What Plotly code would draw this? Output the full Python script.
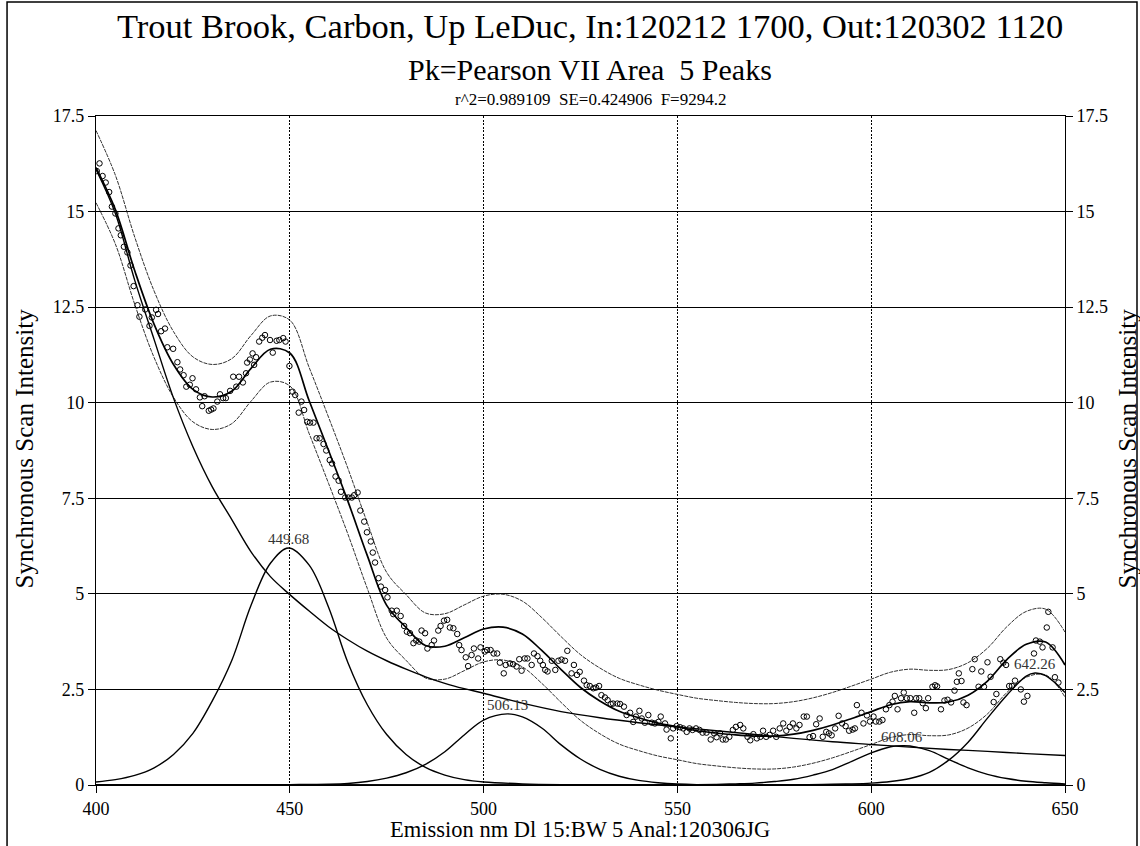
import plotly.graph_objects as go

# ---------------- data ----------------
grid5 = [400, 405, 410, 415, 420, 425, 430, 435, 440, 445,
         450, 455, 460, 465, 470, 475, 480, 485, 490, 495,
         500, 505, 510, 515, 520, 525, 530, 535, 540, 545,
         550, 555, 560, 565, 570, 575, 580, 585, 590, 595,
         600, 605, 610, 615, 620, 625, 630, 635, 640, 645, 650]

fit_y = [16.15, 15.05, 13.45, 12.05, 11.0, 10.35, 10.15, 10.3, 10.9, 11.4,
         11.3, 10.05, 8.75, 7.42, 6.0, 4.7, 4.12, 3.65, 3.63, 3.85,
         4.08, 4.13, 3.95, 3.52, 3.02, 2.55, 2.2, 1.93, 1.76, 1.62,
         1.52, 1.42, 1.36, 1.31, 1.28, 1.28, 1.33, 1.43, 1.57, 1.74,
         1.92, 2.1, 2.18, 2.15, 2.17, 2.35, 2.72, 3.28, 3.68, 3.74, 3.14]

upper_y = [17.12, 15.95, 14.33, 12.92, 11.86, 11.2, 11.0, 11.15, 11.76, 12.27,
           12.16, 10.92, 9.62, 8.28, 6.86, 5.56, 4.98, 4.5, 4.48, 4.71,
           4.94, 4.99, 4.81, 4.38, 3.88, 3.41, 3.06, 2.79, 2.62, 2.48,
           2.37, 2.27, 2.21, 2.16, 2.13, 2.13, 2.18, 2.28, 2.42, 2.59,
           2.77, 2.95, 3.03, 3.0, 3.02, 3.2, 3.58, 4.14, 4.54, 4.6, 4.0]

lower_y = [15.23, 14.15, 12.57, 11.18, 10.14, 9.5, 9.3, 9.45, 10.04, 10.54,
           10.44, 9.19, 7.89, 6.56, 5.14, 3.84, 3.26, 2.8, 2.77, 2.99,
           3.22, 3.27, 3.09, 2.66, 2.16, 1.69, 1.34, 1.07, 0.9, 0.76,
           0.66, 0.56, 0.5, 0.45, 0.42, 0.42, 0.47, 0.57, 0.71, 0.88,
           1.06, 1.24, 1.32, 1.29, 1.31, 1.49, 1.86, 2.42, 2.82, 2.88, 2.3]

base_x = [400, 405, 410, 415, 420, 425, 430, 435, 440, 445, 450, 455, 460,
          465, 470, 475, 480, 485, 490, 495, 500, 510, 520, 530, 540, 550,
          560, 570, 580, 590, 600, 610, 620, 630, 640, 650]
base_y = [16.1, 14.95, 13.2, 11.65, 10.12, 8.85, 7.8, 6.95, 6.1, 5.45, 4.98, 4.55, 4.14,
          3.8, 3.5, 3.25, 3.03, 2.83, 2.66, 2.52, 2.40, 2.14, 1.92, 1.76, 1.63, 1.52,
          1.42, 1.32, 1.22, 1.13, 1.06, 0.99, 0.93, 0.88, 0.82, 0.77]

pk1_x = [400, 405, 410, 415, 420, 425, 430, 435, 440, 445, 449.68, 455, 460,
         465, 470, 475, 480, 485, 490, 495, 500, 510, 520, 550, 650]
pk1_y = [0.08, 0.14, 0.25, 0.45, 0.8, 1.35, 2.2, 3.25, 4.7, 5.8, 6.2, 5.75, 4.65,
         3.2, 2.1, 1.32, 0.8, 0.46, 0.26, 0.14, 0.08, 0.03, 0.01, 0.0, 0.0]

pk2_x = [400, 450, 460, 465, 470, 475, 480, 485, 490, 495, 500, 506.13, 510,
         515, 520, 525, 530, 535, 540, 545, 550, 555, 600, 650]
pk2_y = [0.0, 0.01, 0.02, 0.04, 0.09, 0.18, 0.32, 0.54, 0.87, 1.31, 1.70, 1.86, 1.78,
         1.49, 1.05, 0.68, 0.41, 0.23, 0.12, 0.06, 0.025, 0.01, 0.0, 0.0]

pk3_x = [400, 550, 560, 565, 570, 575, 580, 585, 590, 595, 600, 605, 608.06,
         610, 615, 620, 625, 630, 635, 640, 645, 650]
pk3_y = [0.0, 0.0, 0.015, 0.03, 0.05, 0.09, 0.15, 0.26, 0.40, 0.62, 0.84, 1.00, 1.03,
         1.02, 0.90, 0.67, 0.45, 0.28, 0.17, 0.10, 0.06, 0.03]

pk4_x = [400, 580, 590, 595, 600, 605, 610, 615, 620, 625, 630, 635, 640,
         642.26, 645, 650]
pk4_y = [0.0, 0.0, 0.02, 0.03, 0.05, 0.09, 0.17, 0.33, 0.65, 1.12, 1.75, 2.35, 2.85,
         2.93, 2.86, 2.42]

peak_centers = [449.68, 506.13, 608.06, 642.26]
peak_heights = [6.2, 1.86, 1.03, 2.93]
peak_labels = ["449.68", "506.13", "608.06", "642.26"]

data_x = [400.2, 400.9, 401.7, 402.5, 403.4, 404.1, 405.0, 405.8, 406.4, 407.2,
          408.1, 408.9, 409.7, 410.7, 411.2, 412.7, 413.8, 414.4, 415.5, 416.0,
          416.8, 417.8, 418.4, 419.9, 421.0, 421.7, 422.6, 423.3, 424.2, 424.9,
          425.8, 426.8, 427.4, 428.0, 429.1, 429.7, 430.3, 431.3, 432.0, 432.8,
          433.5, 434.6, 435.4, 436.2, 436.9, 437.9, 438.7, 439.0, 439.7, 440.4,
          440.8, 441.3, 442.1, 442.9, 443.6, 444.9, 445.6, 446.6, 447.3, 448.3,
          448.9, 449.9, 450.7, 451.4, 452.3, 453.0, 453.7, 454.5, 455.2, 456.1,
          456.9, 457.7, 458.7, 459.4, 460.3, 460.9, 461.8, 462.6, 463.2, 464.3,
          465.1, 466.0, 466.6, 467.5, 468.2, 469.2, 469.9, 470.9, 471.4, 472.0,
          472.9, 473.5, 474.6, 475.2, 476.3, 476.7, 477.6, 478.6, 479.5, 480.2,
          481.0, 481.9, 482.6, 483.4, 484.0, 484.9, 485.5, 486.6, 487.2, 488.3,
          488.9, 489.8, 490.6, 491.3, 492.2, 493.2, 493.7, 494.3, 495.4, 496.0,
          496.9, 497.5, 498.6, 499.2, 500.3, 500.9, 501.8, 502.6, 503.5, 504.2,
          505.2, 505.7, 506.8, 507.6, 508.5, 509.2, 509.8, 510.6, 511.3, 512.4,
          513.0, 513.9, 514.6, 515.3, 515.9, 516.5, 517.6, 518.5, 519.3, 520.1,
          521.0, 521.6, 522.7, 523.3, 524.1, 524.8, 525.9, 526.6, 527.4, 528.3,
          529.0, 529.8, 530.4, 531.3, 532.0, 532.8, 533.4, 534.5, 535.2, 536.2,
          536.9, 537.8, 538.6, 539.3, 540.2, 540.8, 541.6, 542.5, 543.4, 544.2,
          545.1, 545.7, 546.8, 547.2, 548.3, 548.9, 549.8, 550.7, 551.5, 552.4,
          553.1, 553.9, 554.8, 555.7, 556.5, 557.5, 558.6, 559.5, 560.1, 561.0,
          561.7, 562.5, 563.4, 564.3, 565.1, 566.2, 567.0, 568.1, 568.8, 569.6,
          570.5, 571.4, 572.1, 572.9, 573.8, 574.7, 575.5, 576.4, 577.3, 578.1,
          579.0, 579.8, 580.7, 581.5, 582.6, 583.4, 584.1, 585.0, 585.8, 586.7,
          587.5, 588.4, 589.1, 589.8, 590.7, 591.6, 592.5, 593.4, 594.3, 595.2,
          595.8, 596.3, 597.5, 598.0, 598.9, 599.7, 600.6, 601.2, 602.1, 602.9,
          603.8, 604.7, 605.5, 606.1, 606.8, 607.7, 608.4, 609.2, 610.1, 611.1,
          611.6, 612.4, 613.3, 614.1, 614.7, 615.8, 616.5, 617.0, 618.0, 618.9,
          619.7, 620.6, 621.5, 622.1, 622.6, 623.3, 623.8, 624.6, 626.1, 626.7,
          627.7, 628.4, 629.1, 630.0, 630.8, 631.6, 632.3, 633.3, 634.1, 634.8,
          635.6, 636.3, 637.1, 638.6, 639.4, 640.3, 642.0, 642.5, 643.5, 644.2,
          645.3, 645.7, 646.8, 647.4, 648.3]

data_y = [16.06, 16.26, 15.93, 15.76, 15.51, 15.13, 14.95, 14.56, 14.38, 14.08,
          13.93, 13.59, 13.05, 12.55, 12.25, 12.44, 12.01, 12.23, 12.43, 12.32,
          11.87, 11.94, 11.45, 11.41, 11.06, 10.87, 10.72, 10.42, 10.47, 10.64,
          10.35, 10.14, 9.91, 10.17, 9.79, 9.82, 9.85, 10.03, 10.22, 10.12,
          10.12, 10.31, 10.68, 10.42, 10.68, 10.53, 10.77, 11.05, 11.13, 11.29,
          10.99, 11.19, 11.6, 11.7, 11.77, 11.64, 11.31, 11.62, 11.64, 11.69,
          11.6, 10.96, 10.29, 10.2, 9.74, 10.03, 9.81, 9.5, 9.48, 9.48,
          9.07, 9.07, 8.92, 8.75, 8.5, 8.41, 8.07, 7.96, 7.67, 7.52,
          7.52, 7.52, 7.58, 7.65, 7.18, 6.89, 6.61, 6.37, 6.08, 5.82,
          5.41, 5.19, 5.1, 4.91, 4.56, 4.47, 4.56, 4.42, 4.16, 4.01,
          3.97, 3.71, 3.78, 3.75, 4.04, 3.97, 3.57, 3.66, 3.78, 4.04,
          4.16, 4.30, 4.32, 4.12, 4.10, 3.95, 3.66, 3.53, 3.34, 3.11,
          3.40, 3.57, 3.31, 3.60, 3.49, 3.53, 3.53, 3.44, 3.44, 3.20,
          2.92, 3.14, 3.18, 3.16, 3.10, 3.29, 2.99, 3.31, 3.31, 3.14,
          3.44, 3.37, 3.25, 3.14, 3.01, 2.97, 3.25, 3.01, 3.25, 3.28,
          3.25, 3.51, 2.92, 3.14, 2.88, 2.96, 2.73, 2.61, 2.59, 2.53,
          2.55, 2.59, 2.35, 2.29, 2.22, 2.12, 2.13, 2.13, 2.12, 2.05,
          1.83, 1.89, 1.65, 1.79, 1.94, 1.74, 1.63, 1.83, 1.63, 1.61,
          1.65, 1.79, 1.61, 1.45, 1.22, 1.48, 1.54, 1.51, 1.48, 1.39,
          1.48, 1.44, 1.48, 1.44, 1.37, 1.37, 1.19, 1.35, 1.25, 1.35,
          1.19, 1.19, 1.26, 1.44, 1.52, 1.57, 1.48, 1.26, 1.17, 1.33,
          1.22, 1.26, 1.42, 1.26, 1.31, 1.42, 1.26, 1.48, 1.61, 1.42,
          1.52, 1.61, 1.48, 1.57, 1.79, 1.79, 1.25, 1.28, 1.59, 1.74,
          1.26, 1.39, 1.35, 1.30, 1.48, 1.81, 1.61, 1.54, 1.42, 1.45,
          1.48, 2.09, 1.89, 1.61, 1.82, 1.66, 1.79, 1.66, 1.66, 1.70,
          1.98, 2.09, 2.18, 2.33, 1.98, 2.27, 2.42, 2.27, 2.27, 1.89,
          2.27, 2.27, 2.14, 2.01, 2.27, 2.57, 2.61, 2.58, 1.98, 2.21,
          2.23, 2.16, 2.47, 2.70, 2.92, 2.72, 2.16, 2.09, 3.03, 3.29,
          2.57, 2.97, 2.57, 3.21, 2.83, 2.17, 2.38, 3.29, 3.20, 3.14,
          2.59, 2.59, 2.73, 2.50, 2.18, 2.33, 3.44, 3.78, 3.75, 3.60,
          4.12, 4.53, 3.60, 2.82, 2.68]

x_ticks = [400, 450, 500, 550, 600, 650]
y_ticks = [0, 2.5, 5, 7.5, 10, 12.5, 15, 17.5]
y_tick_text = ["0", "2.5", "5", "7.5", "10", "12.5", "15", "17.5"]

title_main = "Trout Brook, Carbon, Up LeDuc, In:120212 1700, Out:120302 1120"
title_sub = "Pk=Pearson VII Area  5 Peaks"
title_stats = "r^2=0.989109  SE=0.424906  F=9294.2"
x_title = "Emission nm Dl 15:BW 5 Anal:120306JG"
y_title = "Synchronous Scan Intensity"

# ---------------- figure ----------------
FONT = "'Liberation Serif', 'Times New Roman', serif"
fig = go.Figure()

band_style = dict(color="#1a1a1a", width=0.9, dash="4px,1px")
fig.add_trace(go.Scatter(x=grid5, y=upper_y, mode="lines", line=band_style,
                         line_shape="spline", hoverinfo="skip"))
fig.add_trace(go.Scatter(x=grid5, y=lower_y, mode="lines", line=band_style,
                         line_shape="spline", hoverinfo="skip"))

for px_, py_ in [(base_x, base_y), (pk1_x, pk1_y), (pk2_x, pk2_y),
                 (pk3_x, pk3_y), (pk4_x, pk4_y)]:
    fig.add_trace(go.Scatter(x=px_, y=py_, mode="lines",
                             line=dict(color="black", width=1.4),
                             line_shape="spline", hoverinfo="skip"))

fig.add_trace(go.Scatter(x=grid5, y=fit_y, mode="lines",
                         line=dict(color="black", width=1.7),
                         line_shape="spline"))

fig.add_trace(go.Scatter(x=data_x, y=data_y, mode="markers",
                         marker=dict(symbol="circle-open", size=5.5,
                                     color="black", line=dict(width=1))))

# invisible trace on right axis so it renders
fig.add_trace(go.Scatter(x=[400], y=[0], yaxis="y2", mode="markers",
                         marker=dict(opacity=0), hoverinfo="skip"))

for cx, h, lab in zip(peak_centers, peak_heights, peak_labels):
    fig.add_annotation(x=cx, y=h, text=lab, showarrow=False, yanchor="bottom",
                       yshift=-1, font=dict(family=FONT, size=15, color="#333"))

axis_font = dict(family=FONT, size=18, color="black")
fig.update_layout(
    width=1140, height=846,
    margin=dict(l=96, r=75, t=116, b=61),
    paper_bgcolor="white", plot_bgcolor="white",
    showlegend=False,
    font=dict(family=FONT, color="black"),
    xaxis=dict(range=[400, 650], tickvals=x_ticks, ticks="outside", ticklen=7,
               tickcolor="black", tickwidth=1, showline=True, linecolor="black",
               linewidth=1.2, mirror=True, showgrid=True, gridcolor="black",
               gridwidth=1.3, griddash="2px,1.5px", zeroline=False, tickfont=axis_font),
    yaxis=dict(range=[0, 17.5], tickvals=y_ticks, ticktext=y_tick_text,
               ticks="outside", ticklen=7, tickcolor="black", tickwidth=1,
               showline=True, linecolor="black", linewidth=1.2, mirror=True,
               showgrid=True, gridcolor="black", gridwidth=1.4, zeroline=False,
               tickfont=axis_font),
    yaxis2=dict(range=[0, 17.5], tickvals=y_ticks, ticktext=y_tick_text,
                overlaying="y", side="right", ticks="outside", ticklen=7,
                tickcolor="black", tickwidth=1, showgrid=False, zeroline=False,
                showline=False, tickfont=axis_font),
)

txt = lambda s, size: dict(text=s, showarrow=False, xref="paper", yref="paper",
                           font=dict(family=FONT, size=size, color="black"))
fig.add_annotation(**txt(title_main, 34.5), x=0.51, y=1.1345, xanchor="center", yanchor="middle")
fig.add_annotation(**txt(title_sub, 30), x=0.51, y=1.0688, xanchor="center", yanchor="middle")
fig.add_annotation(**txt(title_stats, 17), x=0.51, y=1.0254, xanchor="center", yanchor="middle")
fig.add_annotation(**txt(x_title, 22.5), x=0.499, y=-0.0658, xanchor="center", yanchor="middle")
fig.add_annotation(**txt(y_title, 25), x=-0.0733, y=0.503, xanchor="center",
                   yanchor="middle", textangle=-90)
fig.add_annotation(**txt(y_title, 25), x=1.064, y=0.503, xanchor="center",
                   yanchor="middle", textangle=-90)

fig.add_shape(type="rect", xref="paper", yref="paper", x0=-0.0918, x1=1.0743,
              y0=-0.0972, y1=1.1704, line=dict(color="black", width=1.5))

fig.write_html("out.html")
